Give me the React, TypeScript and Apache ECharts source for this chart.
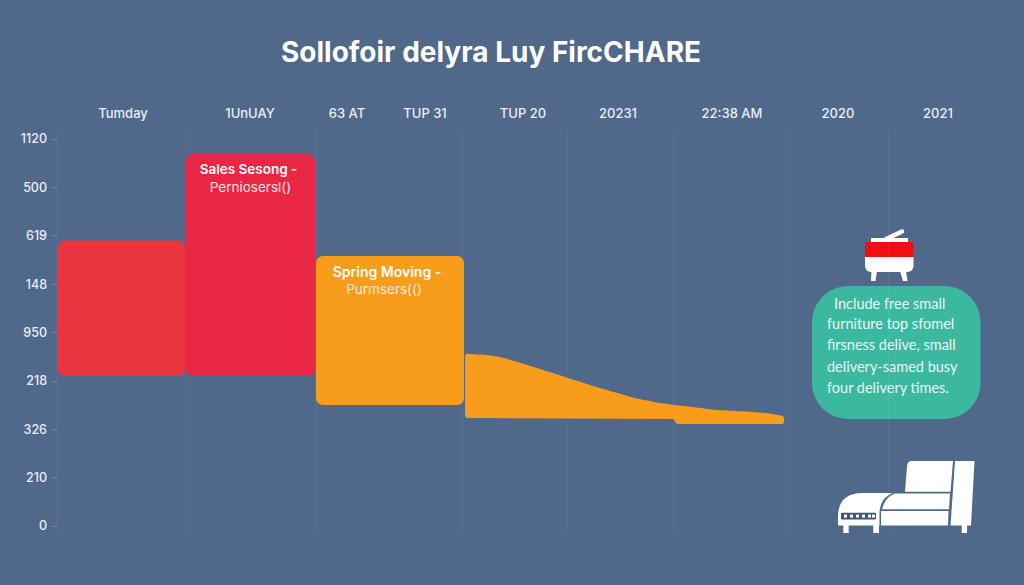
import React, { useEffect, useRef } from "react";
import * as echarts from "echarts";

const chartTitle = "Sollofoir delyra Luy FircCHARE";
const yTickPositions = [0, 1, 2, 3, 4, 5, 6, 7, 8];
const yTickLabels = ["0", "210", "326", "218", "950", "148", "619", "500", "1120"];
const xLabelPositions = [66, 193, 290, 368, 466, 561, 675, 781, 881];
const xLabels = ["Tumday", "1UnUAY", "63 AT", "TUP 31", "TUP 20", "20231", "22:38 AM", "2020", "2021"];
const xGridPositions = [0, 129, 258, 405, 510, 616, 729, 831];

const barStarts = [1, 129, 259];
const barEnds = [128, 258, 407];
const barTops = [5.9, 7.69, 5.58];
const barBases = [3.1, 3.1, 2.5];
const barColors = ["#ea3540", "#e92745", "#f79d1b"];
const barTitles = ["", "Sales Sesong -", "Spring Moving -"];
const barSubtitles = ["", "Perniosersl()", "Purmsers(()"];

const taperX = [408, 426, 443, 460, 476, 493, 510, 526, 543, 560, 576, 593, 610, 626, 643, 660, 676, 693, 710, 727];
const taperTop = [3.56, 3.54, 3.49, 3.39, 3.29, 3.18, 3.06, 2.96, 2.85, 2.75, 2.65, 2.58, 2.52, 2.48, 2.44, 2.4, 2.38, 2.36, 2.33, 2.28];
const taperBottomX = [727, 621, 618, 408];
const taperBottom = [2.11, 2.11, 2.21, 2.23];

const noteLines = [
  "Include free small",
  "furniture top sfomel",
  "firsness delive, small",
  "delivery-samed busy",
  "four delivery times.",
];

const BG = "#50688a";
const FONT = "Inter, 'Noto Sans', sans-serif";

echarts.graphic.registerShape(
  "sofaBody",
  echarts.graphic.extendPath(
    "M905 491.7 L907 466 Q907.5 461 912 461 L953 461 L950.5 491.7 Z " +
      "M955 461 L974.5 461 L971 525.5 L950.5 525.5 Z " +
      "M895 493.5 L950 493.5 L949 509.3 L882 509.3 Q885 497 895 493.5 Z " +
      "M881 511 L948.5 511 L948 525.5 L881 525.5 Z " +
      "M838 525.5 L838 515 Q839 493.5 862 493 L893 493 Q880.5 497 879.5 512 L879.5 525.5 Z " +
      "M843.3 525 L848.7 525 L848.7 533 L843.3 533 Z " +
      "M873.3 525 L879 525 L879 533 L873.3 533 Z " +
      "M961.7 525 L967 525 L967 533 L961.7 533 Z",
    {}
  )
);

function iconElements(): any[] {
  const white = { fill: "#ffffff" };
  const dots = [844, 850, 856, 862, 868, 872].map((x) => ({
    type: "rect",
    shape: { x, y: 514.6, width: 3, height: 3 },
    style: white,
  }));
  return [
    { type: "line", shape: { x1: 886, y1: 239, x2: 902, y2: 231.5 }, style: { stroke: "#fff", lineWidth: 4.5, lineCap: "round" } },
    { type: "rect", shape: { x: 871, y: 238, width: 37, height: 5 }, style: white },
    { type: "rect", shape: { x: 865, y: 257, width: 48.5, height: 15, r: [0, 0, 6, 6] }, style: white },
    { type: "rect", shape: { x: 865, y: 242, width: 48.5, height: 15, r: [2, 2, 0, 0] }, style: { fill: "#f20d12" } },
    { type: "polygon", shape: { points: [[871.5, 271], [877, 271], [875.5, 281], [871, 281]] }, style: white },
    { type: "polygon", shape: { points: [[900, 271], [906, 271], [907.5, 281], [903, 281]] }, style: white },
    { type: "rect", shape: { x: 812, y: 286, width: 168.5, height: 133, r: 36 }, style: { fill: "#3cb8a0" } },
    ...noteLines.map((text, i) => ({
      type: "text",
      x: i === 0 ? 834 : 827,
      y: [303, 323.5, 344, 366, 387][i],
      style: { text, fill: "#e9f7f3", font: "14.5px Lato, 'Noto Sans', sans-serif", textVerticalAlign: "middle" },
    })),
    { type: "sofaBody", x: 0, y: 0, style: white },
    { type: "rect", shape: { x: 841, y: 512.7, width: 35, height: 6.8, r: 1 }, style: { fill: "#3f5573" } },
    ...dots,
  ];
}

// Smooth drawing of the read points (Catmull-Rom to cubic Bezier); adds no data values.
function smoothPath(pts: number[][]): string {
  let d = `M${pts[0][0]} ${pts[0][1]}`;
  for (let i = 0; i < pts.length - 1; i++) {
    const p0 = pts[Math.max(i - 1, 0)];
    const p1 = pts[i];
    const p2 = pts[i + 1];
    const p3 = pts[Math.min(i + 2, pts.length - 1)];
    d += ` C${p1[0] + (p2[0] - p0[0]) / 6} ${p1[1] + (p2[1] - p0[1]) / 6} ${p2[0] - (p3[0] - p1[0]) / 6} ${p2[1] - (p3[1] - p1[1]) / 6} ${p2[0]} ${p2[1]}`;
  }
  return d;
}

export default function App() {
  const ref = useRef<HTMLDivElement>(null);

  useEffect(() => {
    document.body.style.margin = "0";
    document.body.style.background = BG;
    const chart = echarts.init(ref.current!, null, { renderer: "svg" });
    const labelColor = "#e9eef5";

    chart.setOption({
      animation: false,
      backgroundColor: BG,
      title: {
        text: chartTitle,
        left: 486,
        top: 33,
        textAlign: "center",
        textStyle: { color: "#ffffff", fontFamily: FONT, fontWeight: 700, fontSize: 28 },
      },
      grid: { left: 57, right: 34, top: 130, bottom: 52 },
      xAxis: {
        type: "value",
        position: "top",
        min: 0,
        max: 933,
        axisLine: { show: false },
        axisTick: { show: false, customValues: xGridPositions },
        axisLabel: {
          customValues: xLabelPositions,
          formatter: (v: number) => xLabels[xLabelPositions.indexOf(v)] ?? "",
          color: labelColor,
          fontFamily: FONT,
          fontWeight: 500,
          fontSize: 13,
          margin: 11,
        },
        splitLine: { show: true, lineStyle: { color: "rgba(255,255,255,0.06)", width: 1 } },
      },
      yAxis: {
        type: "value",
        min: -0.145,
        max: 8.186,
        axisLine: { show: false },
        axisTick: { show: true, length: 5, customValues: yTickPositions, lineStyle: { color: "rgba(255,255,255,0.2)" } },
        axisLabel: {
          customValues: yTickPositions,
          formatter: (v: number) => yTickLabels[v] ?? "",
          color: labelColor,
          fontFamily: FONT,
          fontWeight: 500,
          fontSize: 12.5,
          margin: 10,
        },
        splitLine: { show: false },
      },
      series: [
        {
          type: "custom",
          clip: false,
          silent: true,
          data: barStarts.map((s, i) => [s, barEnds[i], barTops[i], barBases[i]]),
          encode: { x: [0, 1], y: [2, 3] },
          renderItem: (params: any, api: any) => {
            const i = params.dataIndex;
            const a = api.coord([api.value(0), api.value(2)]);
            const b = api.coord([api.value(1), api.value(3)]);
            const cx = (a[0] + b[0]) / 2;
            const titleShift = i === 2 ? -3 : -2;
            const subShift = i === 2 ? -6 : 0;
            return {
              type: "group",
              children: [
                {
                  type: "rect",
                  shape: { x: a[0], y: a[1], width: b[0] - a[0], height: b[1] - a[1], r: 7 },
                  style: { fill: barColors[i] },
                },
                {
                  type: "text",
                  x: cx + titleShift,
                  y: a[1] + 15,
                  style: {
                    text: barTitles[i],
                    fill: "#ffffff",
                    font: `600 ${i === 2 ? 14 : 13.5}px ${FONT}`,
                    textAlign: "center",
                    textVerticalAlign: "middle",
                  },
                },
                {
                  type: "text",
                  x: cx + subShift,
                  y: a[1] + 33,
                  style: {
                    text: barSubtitles[i],
                    fill: "#fbe9e4",
                    font: `400 13.5px ${FONT}`,
                    textAlign: "center",
                    textVerticalAlign: "middle",
                  },
                },
              ],
            };
          },
        },
        {
          type: "custom",
          clip: false,
          silent: true,
          data: [[taperX[0], taperTop[0]]],
          renderItem: (_p: any, api: any) => {
            const inset = 2.5;
            const last = taperX.length - 1;
            const top = taperX.map((x, i) => {
              const c = api.coord([x, taperTop[i]]);
              return [c[0] + (i === 0 ? inset : i === last ? -inset : 0), c[1] + inset];
            });
            const bottom = taperBottomX.map((x, i) => {
              const c = api.coord([x, taperBottom[i]]);
              return [
                c[0] + (i === taperBottomX.length - 1 ? inset : i === 0 ? -inset : 0),
                c[1] - inset,
              ];
            });
            const all = [...top, ...bottom];
            const xs = all.map((p) => p[0]);
            const ys = all.map((p) => p[1]);
            const minX = Math.min(...xs);
            const minY = Math.min(...ys);
            const d =
              smoothPath(top) +
              " " +
              bottom.map((p) => `L${p[0]} ${p[1]}`).join(" ") +
              " Z";
            return {
              type: "path",
              shape: {
                pathData: d,
                layout: "cover",
                x: minX,
                y: minY,
                width: Math.max(...xs) - minX,
                height: Math.max(...ys) - minY,
              },
              style: { fill: "#f79d1b", stroke: "#f79d1b", lineWidth: inset * 2, lineJoin: "round" },
            };
          },
        },
      ],
      graphic: { elements: iconElements() },
    });
    return () => chart.dispose();
  }, []);

  return <div ref={ref} style={{ width: 1024, height: 585 }} />;
}
